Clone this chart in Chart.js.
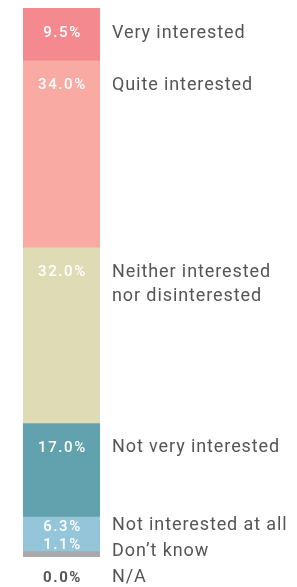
<!DOCTYPE html>
<html>
<head>
<meta charset="utf-8">
<script src="https://cdn.jsdelivr.net/npm/chart.js"></script>
<style>
  html, body { margin: 0; padding: 0; background: #fff; }
</style>
</head>
<body>
<canvas id="myChart" width="297" height="587"></canvas>
<script>
var categories = ["Very interested", "Quite interested", "Neither interested\nnor disinterested", "Not very interested", "Not interested at all", "Don\u2019t know", "N/A"];
var values = [9.5, 34.0, 32.0, 17.0, 6.3, 1.1, 0.0];
var colors = ["#f48a90", "#f8aaa3", "#dedbb5", "#62a2ae", "#94c5d8", "#a9a9ab", "#ffffff"];

var total = values.reduce((a, b) => a + b, 0);

var datasets = categories.map((c, i) => ({
  label: c,
  data: [values[i]],
  backgroundColor: colors[i],
  borderWidth: 0,
  barPercentage: 1,
  categoryPercentage: 1
}));

// labels on the right + values inside the bar
var labelPlugin = {
  id: 'labels',
  afterDatasetsDraw(chart) {
    var ctx = chart.ctx;
    var y = chart.scales.y;
    var n = values.length;
    var catY = [];
    var tops = [], bottoms = [];
    var acc = 0;
    for (var i = 0; i < n; i++) {
      tops.push(y.getPixelForValue(acc));
      acc += values[i];
      bottoms.push(y.getPixelForValue(acc));
      catY.push(tops[i] + 25);
    }
    // push labels up from the bottom so they don't overlap
    catY[n - 1] = Math.min(catY[n - 1], chart.height - 10);
    for (var i = n - 2; i >= 0; i--) {
      catY[i] = Math.min(catY[i], catY[i + 1] - 26);
    }
    var meta = chart.getDatasetMeta(0).data[0];
    var cx = meta.x;
    var right = chart.chartArea.right + 12;

    ctx.save();
    ctx.textBaseline = 'middle';
    for (var i = 0; i < n; i++) {
      ctx.fillStyle = '#555555';
      ctx.font = '18px Roboto';
      ctx.textAlign = 'left';
      ctx.letterSpacing = '0.9px';
      var lines = categories[i].split('\n');
      lines.forEach((l, k) => ctx.fillText(l, right, catY[i] + k * 24));

      var vy;
      if (values[i] === 0) {
        vy = catY[i] + 1;
        ctx.fillStyle = '#555555';
        ctx.font = 'bold 15px Roboto';
      } else {
        vy = Math.min(Math.max(catY[i], tops[i] + 11), bottoms[i] - 12);
        ctx.fillStyle = '#ffffff';
        ctx.font = '500 15px Roboto';
      }
      ctx.textAlign = 'center';
      ctx.letterSpacing = '1.6px';
      ctx.fillText(values[i].toFixed(1) + '%', cx + 1, vy);
    }
    ctx.restore();
  }
};

var ctx = document.getElementById("myChart").getContext("2d");
var myChart = new Chart(ctx, {
  type: 'bar',
  data: { labels: [''], datasets: datasets },
  options: {
    responsive: false,
    animation: false,
    layout: { padding: { left: 23, right: 197, top: 8, bottom: 30 } },
    plugins: { legend: { display: false }, tooltip: { enabled: false } },
    scales: {
      x: { stacked: true, display: false },
      y: { stacked: true, display: false, reverse: true, min: 0, max: total }
    }
  },
  plugins: [labelPlugin]
});
</script>
</body>
</html>
